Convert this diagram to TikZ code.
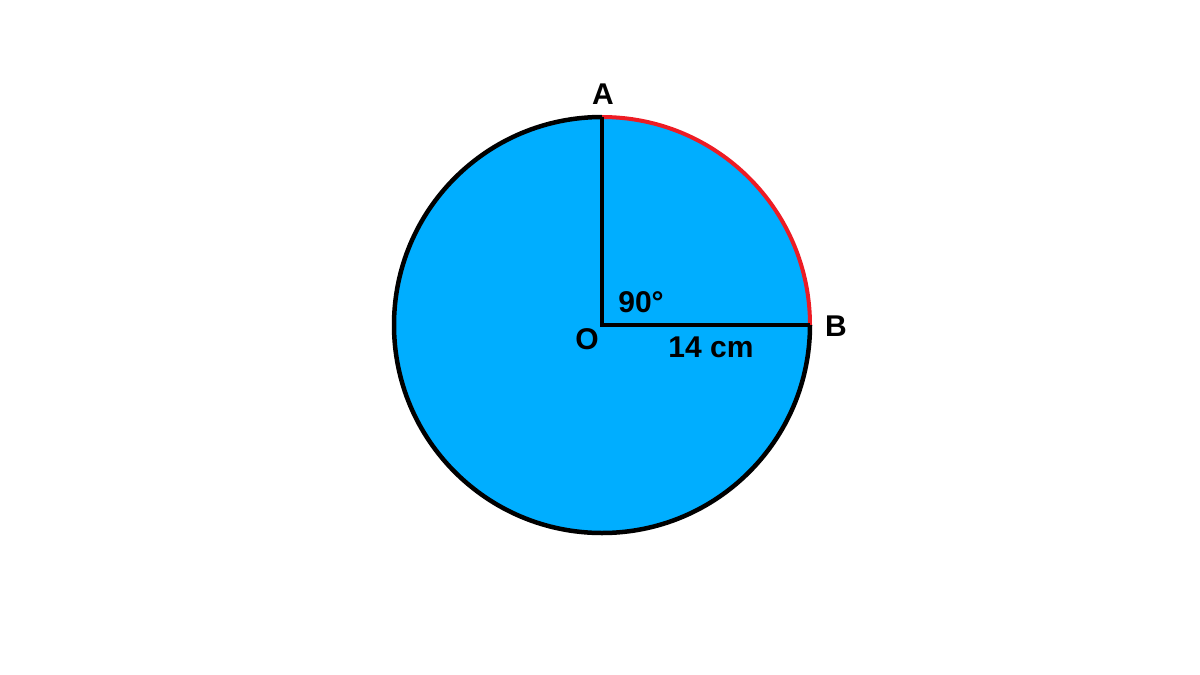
\documentclass[tikz,border=0pt]{standalone}
\usepackage{fontspec}
\setmainfont{Liberation Sans}
\usetikzlibrary{calc, positioning}
\definecolor{disc}{HTML}{00AEFF}
\definecolor{arcred}{HTML}{ED1C24}

\begin{document}
\begin{tikzpicture}[x=1pt, y=-1pt, lbl/.style={font=\fontsize{30}{34}\selectfont\bfseries, inner sep=0pt}]
        \def\rad{208};
        \useasboundingbox (0, 0) rectangle (1200, 675);
        \coordinate (O) at (602, 325);
        \coordinate (A) at ($(O) + (0, -\rad)$);
        \coordinate (B) at ($(O) + (\rad, 0)$);
        \fill[disc] (O) circle (\rad);
        \draw[line width=4.5pt] (B) arc[start angle=0, end angle=270, radius=\rad];
        \draw[arcred, line width=4pt] (B) arc[start angle=0, end angle=-90, radius=\rad];
        \draw[line width=4.5pt] (A) -- (O) -- (B);
        \node[lbl] (lA) at (603, 94) {A};
        \node[lbl] (lB) at (836, 326) {B};
        \node[lbl] (lO) at (587, 339) {O};
        \node[lbl] (ang) at (641, 302) {90°};
        \node[lbl] (len) at (711, 347) {14 cm};
    \end{tikzpicture}
\end{document}
